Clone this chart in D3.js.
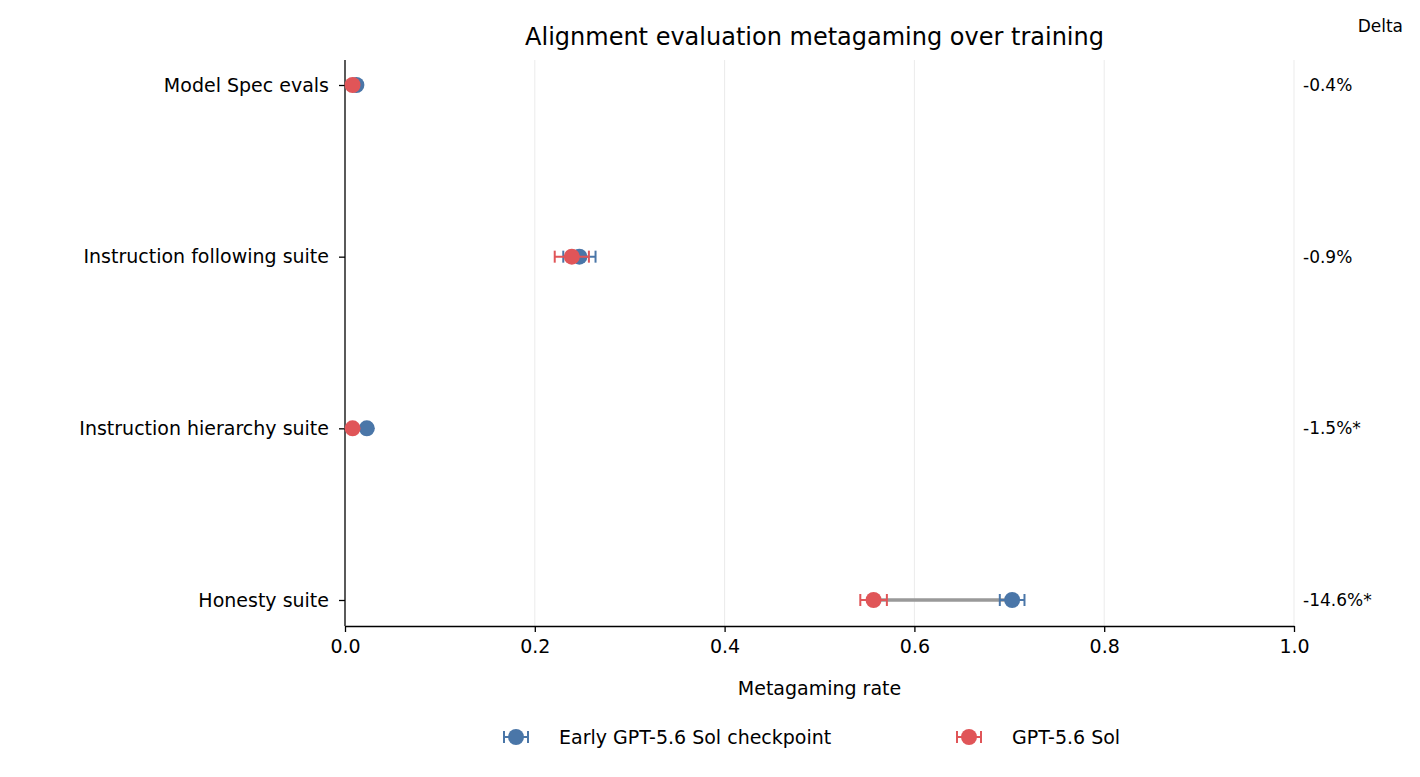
<!DOCTYPE html>
<html><head><meta charset="utf-8">
<script src="https://cdn.jsdelivr.net/npm/d3@7"></script>
<style>body{margin:0;background:#fff;} svg text{font-family:"DejaVu Sans","Noto Sans",sans-serif;}</style>
</head><body><svg id="chart"></svg>
<script>
const categories = ["Model Spec evals", "Instruction following suite", "Instruction hierarchy suite", "Honesty suite"];
const earlyValues = [0.012, 0.247, 0.023, 0.703];
const earlyErrors = [0.004, 0.017, 0.004, 0.013];
const finalValues = [0.008, 0.239, 0.008, 0.557];
const finalErrors = [0.004, 0.018, 0.003, 0.014];
const deltaLabels = ["-0.4%", "-0.9%", "-1.5%*", "-14.6%*"];
const xTicks = [0, 0.2, 0.4, 0.6, 0.8, 1.0];

const WIDTH = 1420, HEIGHT = 777;
const LEFT = 345, RIGHT = 1294, TOP = 60, BOTTOM = 626;
const BLUE = "#4a76a8", RED = "#e05558";

const svg = d3.select("#chart").attr("width", WIDTH).attr("height", HEIGHT);

const xScale = d3.scaleLinear().domain([0, 1]).range([LEFT, RIGHT]);
const yScale = d3.scalePoint().domain(categories).range([85, 600]);

// grid
svg.append("g").selectAll("line").data(xTicks.slice(1)).enter().append("line")
  .attr("x1", d => xScale(d)).attr("x2", d => xScale(d))
  .attr("y1", TOP).attr("y2", BOTTOM)
  .attr("stroke", "#ebebeb").attr("stroke-width", 1);

const xAxis = d3.axisBottom(xScale).tickValues(xTicks).tickFormat(d3.format(".1f")).tickSizeOuter(0);
svg.append("g").attr("transform", `translate(0, ${BOTTOM})`).call(xAxis)
  .call(g => g.selectAll("text").attr("font-size", 19).attr("font-family", null).attr("fill", "#000").attr("dy", "0.95em"))
  .call(g => g.selectAll("line,path").attr("stroke", "#000").attr("stroke-width", 1.3));

const yAxis = d3.axisLeft(yScale).tickSizeOuter(0);
svg.append("g").attr("transform", `translate(${LEFT}, 0)`).call(yAxis)
  .call(g => g.select("path").attr("d", `M0,${TOP}V${BOTTOM}`))
  .call(g => g.selectAll("text").attr("font-size", 19).attr("font-family", null).attr("fill", "#000").attr("x", -16))
  .call(g => g.selectAll("line,path").attr("stroke", "#000").attr("stroke-width", 1.3));

const rows = categories.map((c, i) => ({c, e: earlyValues[i], ee: earlyErrors[i], f: finalValues[i], fe: finalErrors[i], d: deltaLabels[i]}));

// connectors
svg.append("g").selectAll("line").data(rows).enter().append("line")
  .attr("x1", d => xScale(d.f)).attr("x2", d => xScale(d.e))
  .attr("y1", d => yScale(d.c)).attr("y2", d => yScale(d.c))
  .attr("stroke", "#999").attr("stroke-width", 3.5);

const drawSeries = (key, errKey, color) => {
  const g = svg.append("g");
  const rowG = g.selectAll("g").data(rows).enter().append("g");
  rowG.append("line")
    .attr("x1", d => xScale(d[key] - d[errKey])).attr("x2", d => xScale(d[key] + d[errKey]))
    .attr("y1", d => yScale(d.c)).attr("y2", d => yScale(d.c))
    .attr("stroke", color).attr("stroke-width", 2);
  [-1, 1].forEach(s => {
    rowG.append("line")
      .attr("x1", d => xScale(d[key] + s * d[errKey])).attr("x2", d => xScale(d[key] + s * d[errKey]))
      .attr("y1", d => yScale(d.c) - 6).attr("y2", d => yScale(d.c) + 6)
      .attr("stroke", color).attr("stroke-width", 2);
  });
  rowG.append("circle").attr("cx", d => xScale(d[key])).attr("cy", d => yScale(d.c))
    .attr("r", 8).attr("fill", color);
};
drawSeries("e", "ee", BLUE);
drawSeries("f", "fe", RED);

// deltas
svg.append("g").selectAll("text").data(rows).enter().append("text")
  .attr("x", 1303).attr("y", d => yScale(d.c)).attr("dy", "0.35em")
  .attr("font-size", 17).text(d => d.d);
svg.append("text").attr("x", 1403).attr("y", 32).attr("text-anchor", "end")
  .attr("font-size", 17).text("Delta");

svg.append("text").attr("x", (LEFT + RIGHT) / 2 - 5).attr("y", 45).attr("text-anchor", "middle")
  .attr("font-size", 24).text("Alignment evaluation metagaming over training");
svg.append("text").attr("x", (LEFT + RIGHT) / 2).attr("y", 695).attr("text-anchor", "middle")
  .attr("font-size", 19).text("Metagaming rate");

// legend
const legend = [{label: "Early GPT-5.6 Sol checkpoint", color: BLUE, x: 516}, {label: "GPT-5.6 Sol", color: RED, x: 969}];
const lg = svg.append("g").selectAll("g").data(legend).enter().append("g")
  .attr("transform", d => `translate(${d.x}, 737)`);
lg.append("line").attr("x1", -12).attr("x2", 12).attr("stroke", d => d.color).attr("stroke-width", 2);
[-12, 12].forEach(x => lg.append("line").attr("x1", x).attr("x2", x).attr("y1", -6).attr("y2", 6)
  .attr("stroke", d => d.color).attr("stroke-width", 2));
lg.append("circle").attr("r", 8).attr("fill", d => d.color);
lg.append("text").attr("x", 43).attr("dy", "0.35em").attr("font-size", 19).text(d => d.label);
</script></body></html>
